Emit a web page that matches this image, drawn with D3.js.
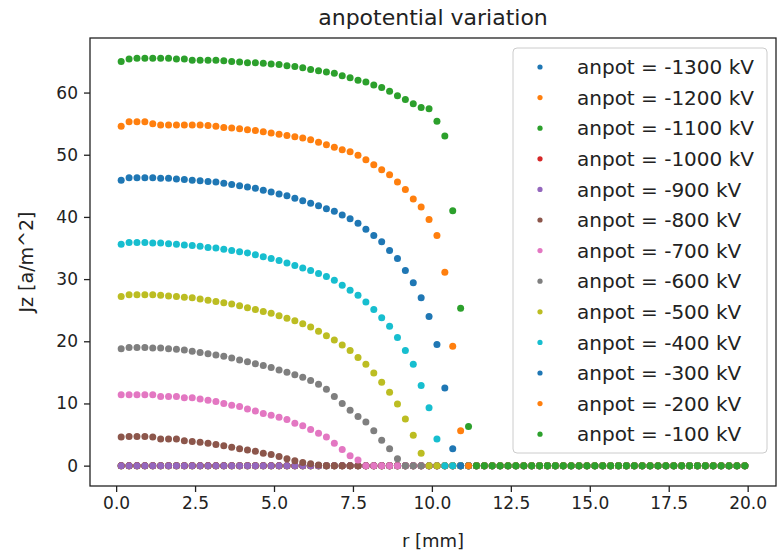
<!DOCTYPE html>
<html>
<head>
<meta charset="utf-8">
<script src="https://cdn.jsdelivr.net/npm/d3@7"></script>
<style>
  body { margin: 0; background: #fff; }
  text { font-family: "DejaVu Sans", sans-serif; fill: #222; }
</style>
</head>
<body>
<svg id="chart"></svg>
<script>
// data
const rValues = [
  0.16, 0.41, 0.66, 0.91, 1.16, 1.41, 1.66, 1.91, 2.16, 2.41,
  2.66, 2.91, 3.16, 3.41, 3.66, 3.91, 4.16, 4.41, 4.66, 4.91,
  5.16, 5.41, 5.66, 5.91, 6.16, 6.41, 6.66, 6.91, 7.16, 7.41,
  7.66, 7.91, 8.16, 8.41, 8.66, 8.91, 9.16, 9.41, 9.66, 9.91,
  10.16, 10.41, 10.66, 10.91, 11.16, 11.41, 11.66, 11.91, 12.16, 12.41,
  12.66, 12.91, 13.16, 13.41, 13.66, 13.91, 14.16, 14.41, 14.66, 14.91,
  15.16, 15.41, 15.66, 15.91, 16.16, 16.41, 16.66, 16.91, 17.16, 17.41,
  17.66, 17.91, 18.16, 18.41, 18.66, 18.91, 19.16, 19.41, 19.66, 19.91
]

const potentials = [-1300, -1200, -1100, -1000, -900, -800, -700, -600, -500, -400, -300, -200, -100]

const zeroLine = [
  0, 0, 0, 0, 0, 0, 0, 0, 0, 0,
  0, 0, 0, 0, 0, 0, 0, 0, 0, 0,
  0, 0, 0, 0, 0, 0, 0, 0, 0, 0,
  0, 0, 0, 0, 0, 0, 0, 0, 0, 0,
  0, 0, 0, 0, 0, 0, 0, 0, 0, 0,
  0, 0, 0, 0, 0, 0, 0, 0, 0, 0,
  0, 0, 0, 0, 0, 0, 0, 0, 0, 0,
  0, 0, 0, 0, 0, 0, 0, 0, 0, 0
]

const jz800 = [
  4.6, 4.7, 4.7, 4.7, 4.6, 4.3, 4.3, 4.3, 4.0, 3.9,
  3.75, 3.6, 3.4, 3.2, 2.95, 2.7, 2.5, 2.3, 2.0, 1.8,
  1.45, 1.1, 0.8, 0.5, 0.3, 0.1, 0, 0, 0, 0,
  0, 0, 0, 0, 0, 0, 0, 0, 0, 0,
  0, 0, 0, 0, 0, 0, 0, 0, 0, 0,
  0, 0, 0, 0, 0, 0, 0, 0, 0, 0,
  0, 0, 0, 0, 0, 0, 0, 0, 0, 0,
  0, 0, 0, 0, 0, 0, 0, 0, 0, 0
]

const jz700 = [
  11.4, 11.4, 11.4, 11.4, 11.4, 11.1, 11.1, 11.1, 10.9, 10.9,
  10.7, 10.5, 10.3, 10.0, 9.7, 9.5, 9.1, 8.8, 8.4, 8.1,
  7.8, 7.4, 6.8, 6.4, 5.8, 5.2, 4.6, 3.6, 2.6, 1.6,
  0.9, 0, 0, 0, 0, 0, 0, 0, 0, 0,
  0, 0, 0, 0, 0, 0, 0, 0, 0, 0,
  0, 0, 0, 0, 0, 0, 0, 0, 0, 0,
  0, 0, 0, 0, 0, 0, 0, 0, 0, 0,
  0, 0, 0, 0, 0, 0, 0, 0, 0, 0
]

const jz600 = [
  18.8, 19.0, 19.0, 19.0, 18.9, 18.9, 18.8, 18.7, 18.6, 18.4,
  18.2, 18.0, 17.8, 17.6, 17.3, 17.0, 16.7, 16.4, 16.1, 15.8,
  15.4, 15.0, 14.6, 14.2, 13.7, 13.1, 12.3, 11.1, 10.0, 8.9,
  7.9, 7.0, 5.6, 4.1, 2.7, 1.1, 0, 0, 0, 0,
  0, 0, 0, 0, 0, 0, 0, 0, 0, 0,
  0, 0, 0, 0, 0, 0, 0, 0, 0, 0,
  0, 0, 0, 0, 0, 0, 0, 0, 0, 0,
  0, 0, 0, 0, 0, 0, 0, 0, 0, 0
]

const jz500 = [
  27.2, 27.5, 27.5, 27.5, 27.5, 27.4, 27.3, 27.2, 27.1, 27.0,
  26.8, 26.6, 26.4, 26.2, 26.0, 25.7, 25.4, 25.1, 24.8, 24.5,
  24.1, 23.7, 23.3, 22.8, 22.3, 21.6, 20.9, 20.2, 19.4, 18.5,
  17.4, 16.3, 14.9, 13.4, 11.8, 9.9, 7.5, 4.9, 2.0, 0,
  0, 0, 0, 0, 0, 0, 0, 0, 0, 0,
  0, 0, 0, 0, 0, 0, 0, 0, 0, 0,
  0, 0, 0, 0, 0, 0, 0, 0, 0, 0,
  0, 0, 0, 0, 0, 0, 0, 0, 0, 0
]

const jz400 = [
  35.6, 35.9, 35.9, 35.9, 35.8, 35.8, 35.7, 35.6, 35.5, 35.4,
  35.3, 35.1, 35.0, 34.8, 34.6, 34.4, 34.2, 33.9, 33.6, 33.3,
  33.0, 32.6, 32.2, 31.8, 31.4, 30.9, 30.4, 29.8, 29.0, 28.2,
  27.4, 26.3, 25.1, 23.8, 22.4, 20.6, 18.5, 16.3, 12.9, 9.3,
  4.3, 0, 0, 0, 0, 0, 0, 0, 0, 0,
  0, 0, 0, 0, 0, 0, 0, 0, 0, 0,
  0, 0, 0, 0, 0, 0, 0, 0, 0, 0,
  0, 0, 0, 0, 0, 0, 0, 0, 0, 0
]

const jz300 = [
  45.9, 46.3, 46.3, 46.3, 46.3, 46.2, 46.2, 46.1, 46.0, 45.9,
  45.8, 45.7, 45.6, 45.4, 45.2, 45.0, 44.8, 44.6, 44.3, 44.0,
  43.7, 43.4, 43.0, 42.6, 42.2, 41.8, 41.3, 40.9, 40.3, 39.7,
  39.0, 38.0, 37.0, 36.0, 34.6, 33.3, 31.4, 29.4, 27.0, 24.0,
  19.5, 12.5, 2.7, 0, 0, 0, 0, 0, 0, 0,
  0, 0, 0, 0, 0, 0, 0, 0, 0, 0,
  0, 0, 0, 0, 0, 0, 0, 0, 0, 0,
  0, 0, 0, 0, 0, 0, 0, 0, 0, 0
]

const jz200 = [
  54.6, 55.3, 55.3, 55.3, 55.0, 54.8, 54.8, 54.8, 54.8, 54.8,
  54.8, 54.7, 54.6, 54.4, 54.3, 54.2, 54.0, 53.9, 53.7, 53.5,
  53.3, 53.1, 52.9, 52.7, 52.4, 52.0, 51.6, 51.2, 50.8, 50.5,
  49.9, 49.2, 48.4, 47.6, 46.8, 45.6, 44.4, 42.9, 41.6, 39.6,
  37.0, 31.1, 19.2, 5.6, 0, 0, 0, 0, 0, 0,
  0, 0, 0, 0, 0, 0, 0, 0, 0, 0,
  0, 0, 0, 0, 0, 0, 0, 0, 0, 0,
  0, 0, 0, 0, 0, 0, 0, 0, 0, 0
]

const jz100 = [
  65.0, 65.4, 65.5, 65.5, 65.5, 65.5, 65.5, 65.4, 65.4, 65.2,
  65.2, 65.2, 65.2, 65.1, 65.0, 64.9, 64.8, 64.8, 64.7, 64.6,
  64.5, 64.3, 64.2, 64.0, 63.7, 63.5, 63.3, 63.1, 62.7, 62.4,
  62.0, 61.7, 61.2, 60.8, 60.2, 59.5, 58.9, 58.2, 57.6, 57.4,
  55.4, 53.0, 41.0, 25.3, 6.3, 0, 0, 0, 0, 0,
  0, 0, 0, 0, 0, 0, 0, 0, 0, 0,
  0, 0, 0, 0, 0, 0, 0, 0, 0, 0,
  0, 0, 0, 0, 0, 0, 0, 0, 0, 0
]

// same order as potentials
const seriesValues = [zeroLine, zeroLine, zeroLine, zeroLine, zeroLine,
  jz800, jz700, jz600, jz500, jz400, jz300, jz200, jz100]

const xTicks = [0, 2.5, 5, 7.5, 10, 12.5, 15, 17.5, 20]
const yTicks = [0, 10, 20, 30, 40, 50, 60]

const width = 781
const height = 554
const plot = {left: 90, right: 776, top: 38, bottom: 486}

const colors = ['#1f77b4', '#ff7f0e', '#2ca02c', '#d62728', '#9467bd',
  '#8c564b', '#e377c2', '#7f7f7f', '#bcbd22', '#17becf']

let svg = d3.select('#chart')
  .attr('width', width)
  .attr('height', height)

// matplotlib-like 5% margins
function padded(extent) {
  let pad = (extent[1] - extent[0]) * 0.05
  return [extent[0] - pad, extent[1] + pad]
}

let xScale = d3.scaleLinear()
  .domain(padded(d3.extent(rValues)))
  .range([plot.left, plot.right])

let yScale = d3.scaleLinear()
  .domain(padded(d3.extent(seriesValues.flat())))
  .range([plot.bottom, plot.top])

// points, last series on top
seriesValues.forEach((vals, i) => {
  let pts = rValues.map((r, j) => [r, vals[j]]).filter(p => p[1] !== undefined)
  svg.append('g')
    .selectAll('circle')
    .data(pts)
    .enter()
    .append('circle')
    .attr('cx', d => xScale(d[0]))
    .attr('cy', d => yScale(d[1]))
    .attr('r', 3.5)
    .attr('fill', colors[i % colors.length])
})

// axes
let xAxis = d3.axisBottom(xScale)
  .tickValues(xTicks)
  .tickFormat(d3.format('.1f'))
  .tickSize(6)
  .tickPadding(5)

let yAxis = d3.axisLeft(yScale)
  .tickValues(yTicks)
  .tickFormat(d3.format('d'))
  .tickSize(6)
  .tickPadding(6)

let gx = svg.append('g')
  .attr('transform', 'translate(0,' + plot.bottom + ')')
  .call(xAxis)

let gy = svg.append('g')
  .attr('transform', 'translate(' + plot.left + ',0)')
  .call(yAxis)

;[gx, gy].forEach(g => {
  g.select('.domain').remove()
  g.selectAll('.tick line').attr('stroke', '#222').attr('stroke-width', 1.3)
  g.selectAll('.tick text')
    .style('font-family', '"DejaVu Sans", sans-serif')
    .style('font-size', '17px')
    .attr('fill', '#222')
})

svg.append('rect')
  .attr('x', plot.left)
  .attr('y', plot.top)
  .attr('width', plot.right - plot.left)
  .attr('height', plot.bottom - plot.top)
  .attr('fill', 'none')
  .attr('stroke', '#222')
  .attr('stroke-width', 1.3)

// titles
svg.append('text')
  .attr('x', (plot.left + plot.right) / 2)
  .attr('y', 25)
  .attr('text-anchor', 'middle')
  .style('font-size', '22px')
  .text('anpotential variation')

svg.append('text')
  .attr('x', (plot.left + plot.right) / 2)
  .attr('y', 547)
  .attr('text-anchor', 'middle')
  .style('font-size', '18px')
  .text('r [mm]')

svg.append('text')
  .attr('transform', 'translate(33,' + ((plot.top + plot.bottom) / 2) + ') rotate(-90)')
  .attr('text-anchor', 'middle')
  .style('font-size', '19px')
  .text('Jz [a/m^2]')

// legend
let legend = svg.append('g')

legend.append('rect')
  .attr('x', 513)
  .attr('y', 48)
  .attr('width', 254)
  .attr('height', 405)
  .attr('rx', 4)
  .attr('fill', '#fff')
  .attr('fill-opacity', 0.8)
  .attr('stroke', '#cccccc')
  .attr('stroke-width', 1)

potentials.forEach((p, i) => {
  let y = 67 + i * 30.6
  legend.append('circle')
    .attr('cx', 540)
    .attr('cy', y)
    .attr('r', 2.6)
    .attr('fill', colors[i % colors.length])
  legend.append('text')
    .attr('x', 577)
    .attr('y', y)
    .attr('dy', '0.36em')
    .style('font-size', '20px')
    .text('anpot = ' + p + ' kV')
})
</script>
</body>
</html>
